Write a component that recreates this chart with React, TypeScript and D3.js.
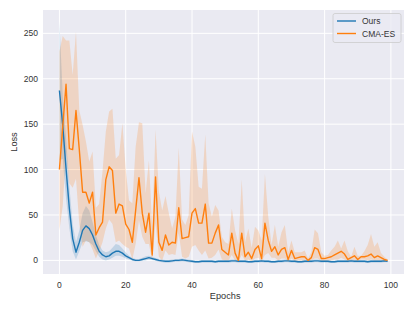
import React from 'react';
import * as d3 from 'd3';

// values (Loss per epoch, 100 epochs)
const epochs = d3.range(100);

const oursMean = [
  187, 149, 101, 57, 24, 9, 20, 33, 38, 35, 28, 18, 10, 6, 4, 5, 8, 10, 10, 8,
  5, 3, 1, 0, 0, 1, 2, 3, 2, 1, 0, -0.5, -1, -1, -0.5, 0, 0, 0.5, 0, -0.5,
  -1, -1.5, -1.5, -1, -1, -1, -1, -1.5, -1, -1, -1, -1, -0.5, -0.5, -1, -1, -1, -1.5, -1.5, -1,
  -1, -0.5, -1, -1, -1.5, -1.5, -1, -1, -0.5, -0.5, -1, -1, -1.5, -1.5, -1, -1, -1, -0.5, -0.5, -1,
  -1, -1, -1.5, -1.5, -1, -1, -1, -1, -0.5, -1, -1, -1, -1, -1.5, -1, -1, -1, -1, -0.5, -1,
];
const oursLow = [
  110, 112, 68, 35, 10, 1, 10, 20, 21, 20, 17, 10, 4, 1, 0, 1, 3, 5, 5, 4,
  2, 1, -0.5, -1, -1, -0.5, 0, 1, 0.5, -0.5, -1.5, -2, -2.5, -2.5, -2, -1.5, -1.5, -1, -1.5, -2,
  -2.5, -3, -3, -2.5, -2.5, -2.5, -2.5, -3, -2.5, -2.5, -2.5, -2.5, -2, -2, -2.5, -2.5, -2.5, -3, -3, -2.5,
  -2.5, -2, -2.5, -2.5, -3, -3, -2.5, -2.5, -2, -2, -2.5, -2.5, -3, -3, -2.5, -2.5, -2.5, -2, -2, -2.5,
  -2.5, -2.5, -3, -3, -2.5, -2.5, -2.5, -2.5, -2, -2.5, -2.5, -2.5, -2.5, -3, -2.5, -2.5, -2.5, -2.5, -2, -2,
];
const oursHigh = [
  263, 182, 135, 82, 40, 20, 33, 52, 60, 55, 42, 28, 17, 11, 9, 10, 14, 18, 17, 13,
  9, 5, 3, 1.5, 1.5, 3, 4.5, 5, 4, 2.5, 1.5, 1, 0.5, 0.5, 1, 1.5, 1.5, 2, 1.5, 1,
  0.5, 0, 0, 0.5, 0.5, 0.5, 0.5, 0, 0.5, 0.5, 0.5, 0.5, 1, 1, 0.5, 0.5, 0.5, 0, 0, 0.5,
  0.5, 1, 0.5, 0.5, 0, 0, 0.5, 0.5, 1, 1, 0.5, 0.5, 0, 0, 0.5, 0.5, 0.5, 1, 1, 0.5,
  0.5, 0.5, 0, 0, 0.5, 0.5, 0.5, 0.5, 1, 0.5, 0.5, 0.5, 0.5, 0, 0.5, 0.5, 0.5, 0.5, 1, 0,
];

const cmaMean = [
  100, 147, 194, 123, 122, 165, 122, 75, 75, 63, 75, 28, 36, 42, 89, 103, 99, 52, 62, 60,
  40, 34, 20, 55, 91, 52, 31, 52, 6, 92, 20, 11, 28, 17, 20, 19, 58, 24, 25, 26,
  52, 57, 41, 41, 62, 19, 19, 30, 39, 12, 9, 6, 30, 8, 0, 30, 4, 9, 2, 12,
  16, 2, 41, 22, 10, 15, 6, 12, 14, 1, 11, 2, 3, 4, 4, 0, 3, 14, 12, 2,
  2, 3, 4, 6, 8, 10, 7, 1, 3, 5, 1, 4, 4, 5, 7, 3, 5, 3, 1, 0,
];
const cmaLow = [
  33, 60, 120, 85, 80, 90, 40, 15, 22, 20, 12, 2, 10, 20, 35, 45, 40, 20, 22, 18,
  15, 13, 1, 18, 44, 26, 18, 18, 0, 41, 4, 0, 11, 6, 7, 6, 30, 4, 2, 4,
  15, 17, 11, 6, 11, 2, 3, 6, 12, 1, 0, 0, 6, 0, -1, 6, 0, 1, -1, 2,
  3, -1, 6, 8, 3, 3, 0, 2, 2, -1, 2, -1, 0, 0, 0, -1, 0, 2, 2, -1,
  -1, 0, 0, 1, 1, 3, 1, -1, 0, 0, -1, 1, 1, 0, 1, 0, 0, 0, -1, -1,
];
const cmaHigh = [
  230, 247, 242, 242, 204, 252, 165, 149, 131, 109, 120, 58, 62, 98, 142, 164, 167, 112, 116, 151,
  100, 66, 63, 125, 152, 151, 74, 110, 37, 144, 76, 55, 71, 52, 35, 48, 124, 45, 39, 50,
  142, 125, 81, 79, 139, 63, 48, 61, 55, 26, 20, 18, 57, 33, 18, 89, 20, 35, 14, 37,
  33, 22, 95, 48, 17, 39, 15, 31, 39, 9, 22, 9, 9, 9, 11, 2, 9, 34, 30, 9,
  5, 6, 11, 15, 22, 13, 22, 10, 4, 15, 5, 5, 10, 17, 29, 15, 20, 8, 4, 1,
];

const xTicks = [0, 20, 40, 60, 80, 100];
const yTicks = [0, 50, 100, 150, 200, 250];
const seriesNames = ['Ours', 'CMA-ES'];
const seriesColors = ['#1f77b4', '#ff7f0e'];

const W = 415;
const H = 311;
const margin = { left: 43, right: 11, top: 10, bottom: 37 };
const FONT = '"Liberation Sans", Arial, sans-serif';

export default function App() {
  const x = d3.scaleLinear().domain([-4.95, 103.95]).range([margin.left, W - margin.right]);
  const y = d3.scaleLinear().domain([-15, 275.7]).range([H - margin.bottom, margin.top]);

  const band = (lo: number[], hi: number[]) =>
    d3.area<number>()
      .x((e) => x(e))
      .y0((e) => y(lo[e]))
      .y1((e) => y(hi[e]))(epochs) || '';
  const line = (vals: number[]) =>
    d3.line<number>()
      .x((e) => x(e))
      .y((e) => y(vals[e]))(epochs) || '';

  const series = [
    { mean: oursMean, lo: oursLow, hi: oursHigh },
    { mean: cmaMean, lo: cmaLow, hi: cmaHigh },
  ];

  const plotW = W - margin.left - margin.right;
  const plotH = H - margin.top - margin.bottom;

  return (
    <svg width={W} height={H} style={{ position: 'absolute', left: 0, top: 0 }} fontFamily={FONT}>
      <rect x={0} y={0} width={W} height={H} fill="#ffffff" />
      <rect x={margin.left} y={margin.top} width={plotW} height={plotH} fill="#eaeaf2" />
      {/* grid */}
      {xTicks.map((t) => (
        <line key={'gx' + t} x1={x(t)} x2={x(t)} y1={margin.top} y2={H - margin.bottom} stroke="#fff" strokeWidth={1} />
      ))}
      {yTicks.map((t) => (
        <line key={'gy' + t} x1={margin.left} x2={W - margin.right} y1={y(t)} y2={y(t)} stroke="#fff" strokeWidth={1} />
      ))}
      {/* bands then lines */}
      {series.map((s, i) => (
        <path key={'b' + i} d={band(s.lo, s.hi)} fill={seriesColors[i]} fillOpacity={0.2} stroke="none" />
      ))}
      {series.map((s, i) => (
        <path key={'l' + i} d={line(s.mean)} fill="none" stroke={seriesColors[i]} strokeWidth={1.4} strokeLinejoin="round" />
      ))}
      {/* tick labels */}
      {xTicks.map((t) => (
        <text key={'tx' + t} x={x(t)} y={H - margin.bottom + 14} textAnchor="middle" fontSize={8.5} fill="#333">
          {t}
        </text>
      ))}
      {yTicks.map((t) => (
        <text key={'ty' + t} x={margin.left - 5} y={y(t) + 3} textAnchor="end" fontSize={8.5} fill="#333">
          {t}
        </text>
      ))}
      <text x={x(50)} y={299} textAnchor="middle" fontSize={9.2} fill="#333">Epochs</text>
      <text transform={`translate(16.5, ${margin.top + plotH / 2}) rotate(-90)`} textAnchor="middle" fontSize={9.2} fill="#333">
        Loss
      </text>
      {/* legend */}
      <g transform="translate(333, 13.5)">
        <rect x={0} y={0} width={68} height={29} rx={2} fill="#eaeaf2" fillOpacity={0.8} stroke="#cccccc" strokeWidth={0.8} />
        {seriesNames.map((n, i) => (
          <g key={n} transform={`translate(0, ${7.5 + i * 12.5})`}>
            <line x1={4} x2={23} y1={0} y2={0} stroke={seriesColors[i]} strokeWidth={1.4} />
            <text x={29} y={3} fontSize={8.5} fill="#333">{n}</text>
          </g>
        ))}
      </g>
    </svg>
  );
}
